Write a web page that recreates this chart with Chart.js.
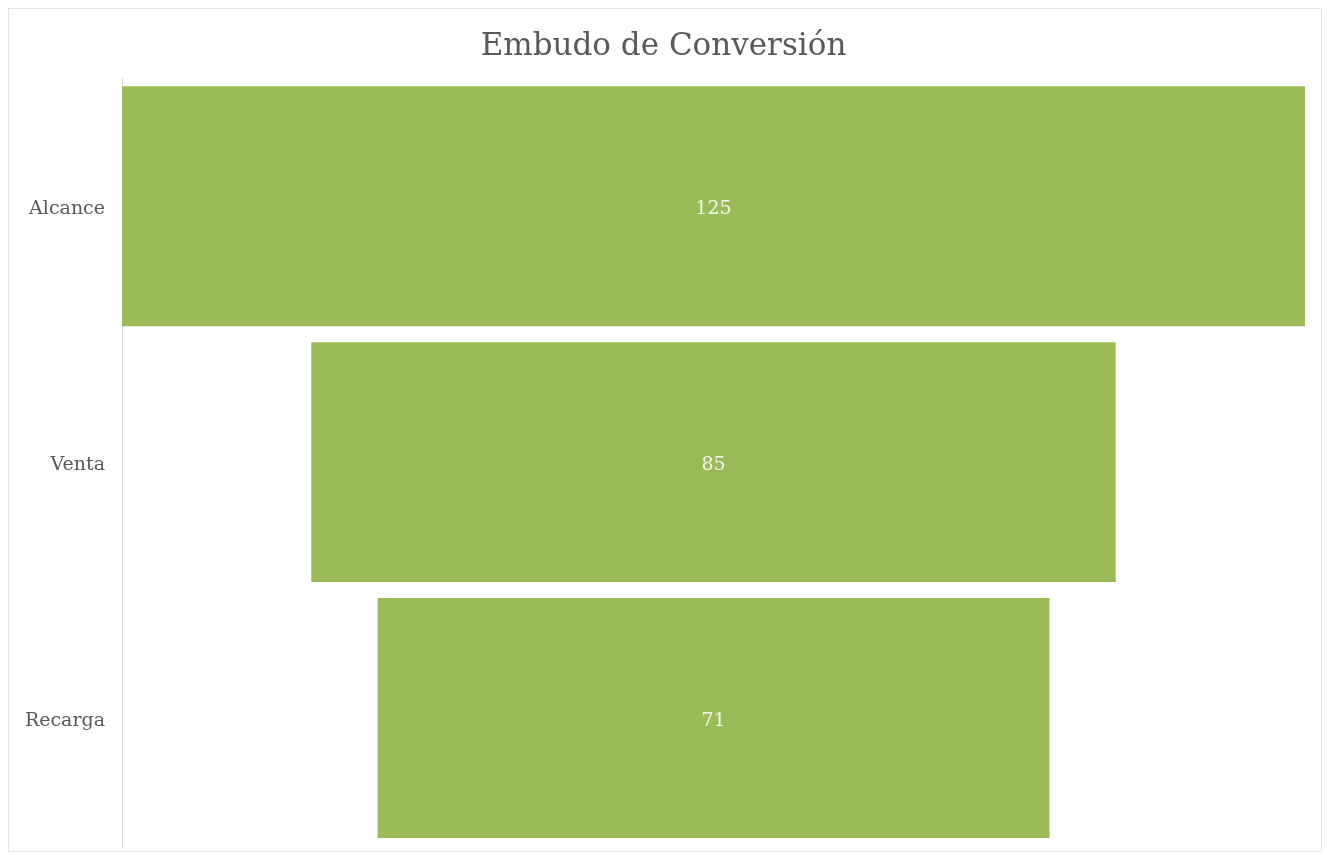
<html>
<head>
<script src="https://cdn.jsdelivr.net/npm/chart.js@4.4.0/dist/chart.umd.min.js"></script>
<style>
body { margin:0; background:#fff; overflow:hidden; }
#box { position:absolute; left:8px; top:8px; width:1312px; height:842px; border:1px solid #e3e3e3; }
#funnel { position:absolute; left:0; top:0; }
</style>
</head>
<body>
<div id="box"></div>
<canvas id="funnel" width="1327" height="855"></canvas>
<script>
var stages = ['Alcance', 'Venta', 'Recarga'];
var values = [125, 85, 71];
var maxValue = 125;

// centred bars: each stage spans from -v/2 to v/2
var spans = [];
for (var i = 0; i < values.length; i++) {
    spans.push([-values[i] / 2, values[i] / 2]);
}

var valueLabels = {
    id: 'valueLabels',
    afterDatasetsDraw: function(chart) {
        var ctx = chart.ctx;
        var meta = chart.getDatasetMeta(0);
        ctx.save();
        ctx.fillStyle = '#f4f8ec';
        ctx.font = '19px "DejaVu Serif", serif';
        ctx.textAlign = 'center';
        ctx.textBaseline = 'middle';
        meta.data.forEach(function(bar, i) {
            ctx.fillText(values[i], chart.scales.x.getPixelForValue(0), bar.y + 3);
        });
        ctx.restore();
    }
};

var ctx = document.getElementById('funnel').getContext('2d');
var funnelChart = new Chart(ctx, {
    type: 'bar',
    data: {
        labels: stages,
        datasets: [{
            data: spans,
            backgroundColor: '#9bbb59',
            borderWidth: 0,
            barPercentage: 0.9375,
            categoryPercentage: 1
        }]
    },
    options: {
        indexAxis: 'y',
        responsive: false,
        animation: false,
        layout: { padding: { left: 22, right: 22, top: 0, bottom: 9 } },
        plugins: {
            legend: { display: false },
            tooltip: { enabled: false },
            title: {
                display: true,
                text: 'Embudo de Conversión',
                color: '#595959',
                font: { family: '"DejaVu Serif", serif', size: 31, weight: 'normal' },
                padding: { top: 28, bottom: 13 }
            }
        },
        scales: {
            x: {
                display: false,
                min: -maxValue / 2,
                max: maxValue / 2
            },
            y: {
                grid: { display: false },
                border: { display: true, color: '#d9d9d9', width: 1 },
                ticks: {
                    color: '#595959',
                    padding: 9,
                    labelOffset: 3,
                    font: { family: '"DejaVu Serif", serif', size: 19 }
                },
                afterFit: function(scale) {
                    scale.width = 100;
                    scale.paddingTop = 0;
                    scale.paddingBottom = 0;
                }
            }
        }
    },
    plugins: [valueLabels]
});
</script>
</body>
</html>
